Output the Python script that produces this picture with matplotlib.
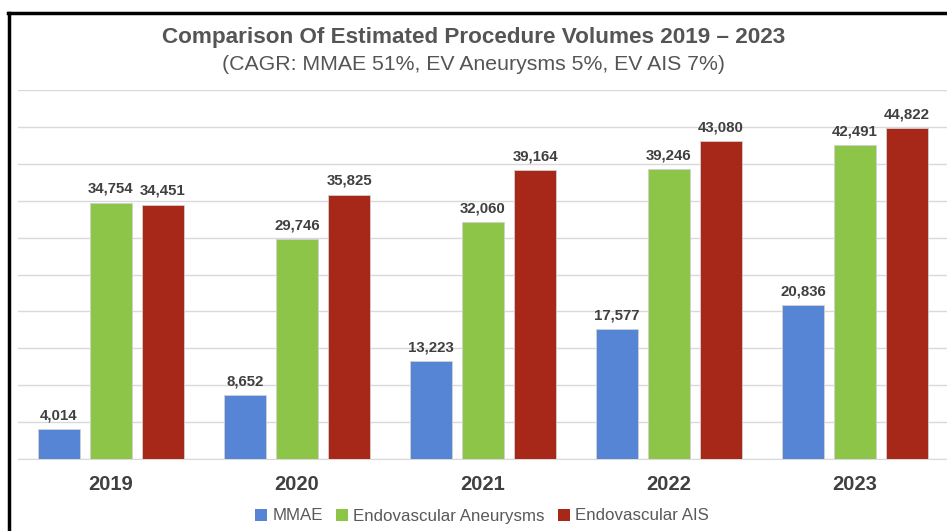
import matplotlib
matplotlib.use("Agg")
import matplotlib.pyplot as plt
import numpy as np
from matplotlib.lines import Line2D
from matplotlib.patches import Patch

plt.rcParams['font.family'] = ['Liberation Sans', 'DejaVu Sans']

# data
years = ["2019", "2020", "2021", "2022", "2023"]
mmae = [4014, 8652, 13223, 17577, 20836]
ev_aneurysms = [34754, 29746, 32060, 39246, 42491]
ev_ais = [34451, 35825, 39164, 43080, 44822]
series_names = ["MMAE", "Endovascular Aneurysms", "Endovascular AIS"]
colors = ["#5585D4", "#8DC548", "#A72818"]

fig = plt.figure(figsize=(9.47, 5.31), dpi=100)
ax = fig.add_axes([18 / 947, 72 / 531, 930 / 947, 369 / 531])

x = np.arange(len(years))
step = 0.28
width = 0.226
for i, (vals, col) in enumerate(zip([mmae, ev_aneurysms, ev_ais], colors)):
    pos = x + (i - 1) * step
    bars = ax.bar(pos, vals, width, color=col, edgecolor="#d0d0d0", linewidth=0.6, zorder=3)
    for b, v in zip(bars, vals):
        ax.annotate(f"{v:,}", (b.get_x() + b.get_width() / 2, v),
                    xytext=(0, 5), textcoords="offset points",
                    ha="center", va="bottom", fontsize=10.8, fontweight="bold",
                    color="#404040")

ax.set_xlim(-0.5, 4.5)
ax.set_ylim(0, 50000)
ax.set_yticks(np.arange(0, 50001, 5000))
ax.yaxis.grid(True, color="#d9d9d9", linewidth=1)
ax.set_axisbelow(True)
ax.tick_params(axis="y", left=False, labelleft=False)
ax.tick_params(axis="x", bottom=False, pad=8)
ax.set_xticks(x)
ax.set_xticklabels(years, fontsize=14.5, fontweight="bold", color="#404040")
for s in ["top", "right", "left"]:
    ax.spines[s].set_visible(False)
ax.spines["bottom"].set_color("#d9d9d9")

fig.text(0.5, 1 - 37 / 531, "Comparison Of Estimated Procedure Volumes 2019 \u2013 2023",
         ha="center", va="center", fontsize=16.2, fontweight="bold", color="#555555")
fig.text(0.5, 1 - 64 / 531, "(CAGR: MMAE 51%, EV Aneurysms 5%, EV AIS 7%)",
         ha="center", va="center", fontsize=15.3, color="#555555")

handles = [Patch(facecolor=c, edgecolor="none") for c in colors]
fig.legend(handles, series_names, loc="center", bbox_to_anchor=(0.509, 1 - 516 / 531),
           ncol=3, frameon=False, fontsize=12.2, handlelength=0.7, handleheight=0.7,
           handletextpad=0.35, columnspacing=0.75, labelcolor="#595959")

# black border lines (left and top)
fig.add_artist(Line2D([8.5 / 947, 8.5 / 947], [0, 1 - 12.5 / 531], color="black",
                      linewidth=2.5, transform=fig.transFigure))
fig.add_artist(Line2D([7.5 / 947, 1], [1 - 12.5 / 531, 1 - 12.5 / 531], color="black",
                      linewidth=2.5, transform=fig.transFigure))

fig.savefig("out.png", dpi=100)
